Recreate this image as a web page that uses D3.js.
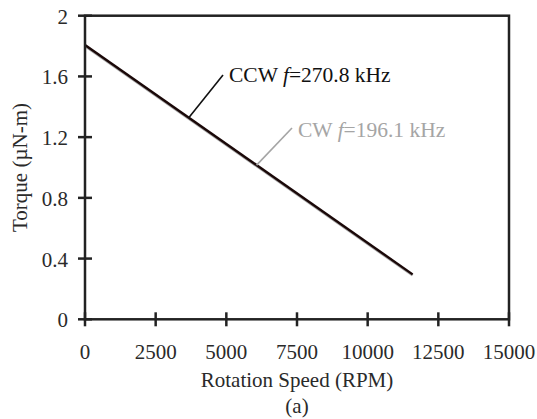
<!DOCTYPE html>
<html><head><meta charset="utf-8">
<script src="https://cdn.jsdelivr.net/npm/d3@7"></script>
<style>body{margin:0;background:#fff}svg{display:block}text{font-family:"Liberation Serif","Times New Roman",serif}</style>
</head><body>
<script>
const xTicks = [0, 2500, 5000, 7500, 10000, 12500, 15000];
const yTicks = [0, 0.4, 0.8, 1.2, 1.6, 2];
const yTickLabels = ["0", "0.4", "0.8", "1.2", "1.6", "2"];
const speedRPM = [0, 11590];
const torqueCCW = [1.807, 0.296];
const torqueCW = [1.801, 0.290];
const xTitle = "Rotation Speed (RPM)";
const yTitle = "Torque (\u00b5N-m)";
const caption = "(a)";

const W = 537, H = 419;
const m = {left: 85, right: 28, top: 15.7, bottom: 99.7};
const svg = d3.select("body").append("svg").attr("width", W).attr("height", H);
const x = d3.scaleLinear().domain([0, 15000]).range([m.left, W - m.right]);
const y = d3.scaleLinear().domain([0, 2]).range([H - m.bottom, m.top]);
const FS = 21;
const axisCol = "#222";
const txtCol = "#2a2a2a";

// series
const line = d3.line().x(d => x(d[0])).y(d => y(d[1]));
svg.append("path").datum(speedRPM.map((s, i) => [s, torqueCW[i]]))
  .attr("d", line).attr("fill", "none").attr("stroke", "#a5a5a5").attr("stroke-width", 2.6);
svg.append("path").datum(speedRPM.map((s, i) => [s, torqueCCW[i]]))
  .attr("d", line).attr("fill", "none").attr("stroke", "#1a0808").attr("stroke-width", 2.4);

// frame
svg.append("rect").attr("x", x(0)).attr("y", y(2)).attr("width", x(15000) - x(0)).attr("height", y(0) - y(2))
  .attr("fill", "none").attr("stroke", axisCol).attr("stroke-width", 2.5);

// x ticks
const gx = svg.append("g");
gx.selectAll("line").data(xTicks).join("line")
  .attr("x1", d => x(d)).attr("x2", d => x(d)).attr("y1", y(0) - 7).attr("y2", y(0) + 7)
  .attr("stroke", axisCol).attr("stroke-width", 2.5);
gx.selectAll("text").data(xTicks).join("text")
  .attr("x", d => x(d)).attr("y", 359).attr("text-anchor", "middle")
  .attr("font-size", FS).attr("fill", txtCol).text(d => d);

// y ticks
const gy = svg.append("g");
gy.selectAll("line").data(yTicks).join("line")
  .attr("x1", x(0) - 7).attr("x2", x(0) + 7).attr("y1", d => y(d)).attr("y2", d => y(d))
  .attr("stroke", axisCol).attr("stroke-width", 2.5);
gy.selectAll("text").data(yTicks).join("text")
  .attr("x", 68).attr("y", d => y(d) + 8).attr("text-anchor", "end")
  .attr("font-size", FS).attr("fill", txtCol).text((d, i) => yTickLabels[i]);

// titles
svg.append("text").attr("x", (x(0) + x(15000)) / 2).attr("y", 387).attr("text-anchor", "middle")
  .attr("font-size", FS).attr("fill", txtCol).text(xTitle);
svg.append("text").attr("x", (x(0) + x(15000)) / 2).attr("y", 413).attr("text-anchor", "middle")
  .attr("font-size", FS).attr("fill", txtCol).text(caption);
svg.append("text").attr("transform", `translate(27,${(y(0) + y(2)) / 2}) rotate(-90)`)
  .attr("text-anchor", "middle").attr("font-size", FS).attr("fill", txtCol).text(yTitle);

// annotations
function annot(sx, lx, ly, tx, ty, col, sw, pre, post) {
  const t = (sx - speedRPM[0]) / (speedRPM[1] - speedRPM[0]);
  const ty0 = torqueCCW[0] + t * (torqueCCW[1] - torqueCCW[0]);
  svg.append("line").attr("x1", x(sx)).attr("y1", y(ty0)).attr("x2", lx).attr("y2", ly)
    .attr("stroke", col).attr("stroke-width", sw);
  const tt = svg.append("text").attr("x", tx).attr("y", ty).attr("font-size", 21.5).attr("fill", col);
  tt.append("tspan").text(pre);
  tt.append("tspan").attr("font-style", "italic").text("f");
  tt.append("tspan").text(post);
}
annot(3670, 223, 75, 229, 82, "#111", 1.6, "CCW ", "=270.8 kHz");
annot(6070, 292, 128, 298, 137, "#a5a5a5", 1.6, "CW ", "=196.1 kHz");
</script>
</body></html>
